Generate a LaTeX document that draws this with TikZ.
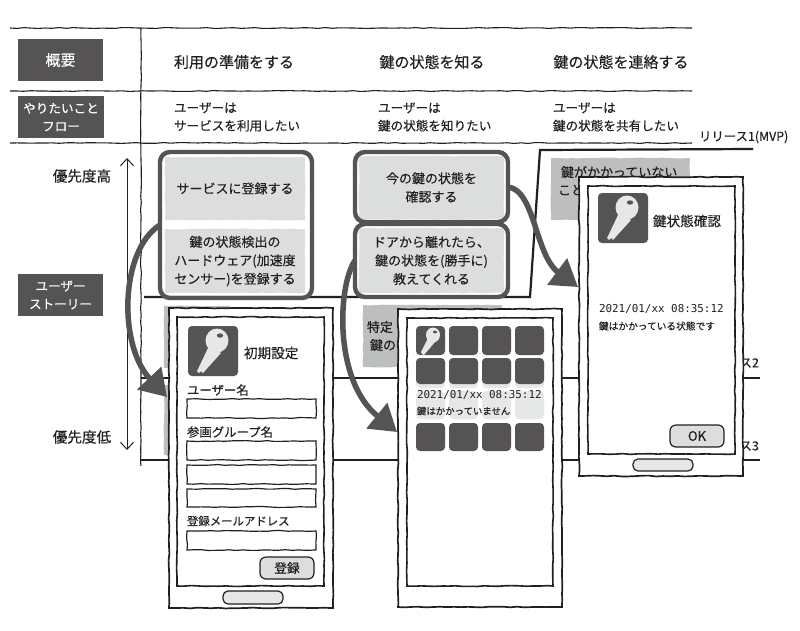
\documentclass[tikz,border=0pt]{standalone}
\usepackage{fontspec}
\setmainfont[FakeBold=0.25]{Noto Sans CJK JP}
\newfontfamily\datefont{DejaVu Sans Mono}
\usetikzlibrary{arrows.meta,decorations.pathmorphing}
\definecolor{ink}{HTML}{231F20}
\definecolor{darkbox}{HTML}{555354}
\definecolor{cardlight}{HTML}{DCDDDD}
\definecolor{cardmid}{HTML}{BDBEBE}
\definecolor{iconlight}{HTML}{E6E7E7}
\newcommand{\fs}[2]{\fontsize{#1}{#2}\selectfont}
\newcommand{\rbox}[7]{\node[#1,anchor=north west,minimum width={(#5)-(#3)},minimum height={(#6)-(#4)}] (#2) at (#3,#4) {#7};}
\tikzset{
  every node/.style={inner sep=0pt,outer sep=0pt,text=ink},
  wob/.style={decoration={random steps,segment length=7pt,amplitude=0.45pt},decorate},
  gridline/.style={draw=ink,line width=1.1pt,wob},
  relline/.style={draw=ink,line width=2.2pt},
  headbox/.style={fill=darkbox,text=white,align=center,font=\fs{12.6}{18}},
  headlabel/.style={align=center,font=\fs{15}{18}},
  flowlabel/.style={align=left,anchor=west,font=\fs{12.6}{18}},
  prio/.style={align=center,font=\fs{14.6}{18}},
  cardlt/.style={fill=cardlight,align=center,font=\fs{13}{18.5},wob},
  cardmd/.style={fill=cardmid,align=left,font=\fs{13}{18.5},wob},
  storyframe/.style={draw=darkbox,line width=4.4pt,rounded corners=10pt},
  phoneouter/.style={draw=ink,fill=white,line width=1.7pt,wob},
  phoneinner/.style={draw=ink,fill=white,line width=1.6pt,wob},
  field/.style={draw=ink,fill=white,line width=1.2pt,wob},
  fieldlabel/.style={anchor=west,font=\fs{12.4}{15}},
  pill/.style={rounded corners=5pt,draw=ink,fill=iconlight,line width=1.2pt},
  okbtn/.style={rounded corners=6pt,draw=ink,fill=cardlight,line width=1.2pt},
  appdark/.style={fill=darkbox,rounded corners=4pt},
  applight/.style={fill=iconlight,rounded corners=4pt},
  axisarrow/.style={draw=ink,line width=1pt,-{Straight Barb[length=7pt,width=13pt]}},
  storyarrow/.style={draw=darkbox,line width=5.5pt,-{Triangle[length=26pt,width=32pt]}},
  pics/keyicon/.style={code={
    \fill[darkbox,rounded corners=4pt] (0,0) rectangle (50,50);
    \fill[iconlight] (29,14.5) ellipse [x radius=11.5,y radius=12];
    \fill[iconlight] (21,20) -- (33,27) -- (15,47) -- (13,45) -- (11,47) -- (9,45) -- (11,41) -- cycle;
    \fill[darkbox] (32,9.5) ellipse [x radius=3.2,y radius=2.2];
  }},
  pics/keysmall/.style={code={
    \fill[iconlight] (17,9) ellipse [x radius=7,y radius=7.5];
    \fill[iconlight] (12,12) -- (19,16) -- (8,29) -- (6,28) -- (5,26) -- cycle;
    \fill[darkbox] (19,6) ellipse [x radius=2,y radius=1.4];
  }}
}
\begin{document}
\begin{tikzpicture}[x=1pt,y=-1pt]
\useasboundingbox (0,0) rectangle (800,630);
\fill[white] (0,0) rectangle (800,630);
% table rules
\draw[gridline] (10,28) -- (692,28);
\draw[gridline] (10,91) -- (692,91);
\draw[gridline] (10,143) -- (692,143);
\draw[gridline] (141,28) -- (141,466);
% row heads
\rbox{headbox}{hOverview}{18}{39}{103}{81}{\fs{15}{18}概要}
\rbox{headbox}{hFlow}{18}{96}{104}{138}{やりたいこと\\フロー}
\rbox{headbox}{hStory}{18}{274}{103}{316}{ユーザー\\ストーリー}
% column heads
\node[headlabel] (c1) at (234,62) {利用の準備をする};
\node[headlabel] (c2) at (432,62) {鍵の状態を知る};
\node[headlabel] (c3) at (621,62) {鍵の状態を連絡する};
\node[flowlabel] (f1) at (174,117) {ユーザーは\\サービスを利用したい};
\node[flowlabel] (f2) at (378,117) {ユーザーは\\鍵の状態を知りたい};
\node[flowlabel] (f3) at (553,117) {ユーザーは\\鍵の状態を共有したい};
\node[anchor=west,font=\fs{12.4}{14}] (r1) at (699,137) {リリース1(MVP)};
% priority axis
\coordinate (axisMid) at (127,300);
\coordinate (axisTop) at (127,158);
\coordinate (axisBot) at (127,450);
\draw[axisarrow] (axisMid) -- (axisTop);
\draw[axisarrow] (axisMid) -- (axisBot);
\node[prio] (pHigh) at (82,176) {優先度高};
\node[prio] (pLow) at (82,437) {優先度低};
% release lines
\draw[relline] (144,297) -- (530,297) -- (540,150) -- (753,149);
\draw[relline] (141,378) -- (760,378);
\draw[relline] (141,460) -- (760,460);
\node[anchor=east,font=\fs{12.6}{15}] (r2) at (759,363) {ス2};
\node[anchor=east,font=\fs{12.6}{15}] (r3) at (759,446) {ス3};
% cards
\rbox{cardlt}{s1}{165}{157}{305}{220}{サービスに登録する}
\rbox{cardlt}{s2}{165}{229}{305}{293}{鍵の状態検出の\\ハードウェア(加速度\\センサー)を登録する}
\rbox{cardlt}{s3}{359}{156}{504}{219}{今の鍵の状態を\\確認する}
\rbox{cardlt}{s4}{359}{228}{504}{293}{ドアから離れたら、\\鍵の状態を(勝手に)\\教えてくれる}
\rbox{storyframe}{g1}{160}{152}{312}{298}{}
\rbox{storyframe}{g2}{355}{152}{508}{222}{}
\rbox{storyframe}{g3}{355}{224}{508}{297}{}
\rbox{cardmd}{s5}{551}{158}{690}{220}{}
\node[anchor=west,font=\fs{13}{18}] (s5a) at (561,172) {鍵がかかっていない};
\node[anchor=west,font=\fs{13}{18}] (s5b) at (558,190) {こと};
\rbox{cardmd}{s6}{363}{305}{502}{367}{}
\node[anchor=west,font=\fs{13}{18}] (s6a) at (367,327) {特定};
\node[anchor=west,font=\fs{13}{18}] (s6b) at (370,345) {鍵の};
\rbox{cardmd}{s7}{164}{306}{230}{368}{}
\rbox{cardmd}{s8}{164}{385}{230}{455}{}
% phone: right
\rbox{phoneouter}{pR}{579}{177}{743}{476}{}
\rbox{phoneinner}{pRi}{588}{186}{735}{454}{}
\pic at (598,193) {keyicon};
\node[anchor=west,font=\fs{13.6}{16}] (pRt) at (653,221) {鍵状態確認};
\node[anchor=west,font=\datefont\fs{10.9}{13}] (pRd) at (599,309) {2021/01/xx 08:35:12};
\node[anchor=west,font=\fs{9.7}{12}] (pRm) at (599,326) {鍵はかかっている状態です};
\rbox{okbtn,font=\fs{13}{15}}{pRok}{670}{425}{724}{447}{OK}
\rbox{pill}{pRh}{633}{459}{693}{471}{}
% phone: left
\rbox{phoneouter}{pL}{169}{308}{333}{608}{}
\rbox{phoneinner}{pLi}{177}{317}{324}{586}{}
\pic at (188,326) {keyicon};
\node[anchor=west,font=\fs{13.6}{16}] (pLt) at (244,353) {初期設定};
\node[fieldlabel] (l1) at (187,390) {ユーザー名};
\rbox{field}{f11}{187}{399}{316}{418}{}
\node[fieldlabel] (l2) at (187,432) {参画グループ名};
\rbox{field}{f21}{187}{441}{316}{460}{}
\rbox{field}{f22}{187}{465}{316}{484}{}
\rbox{field}{f23}{187}{489}{316}{507}{}
\node[fieldlabel,font=\fs{11.4}{14}] (l3) at (187,521) {登録メールアドレス};
\rbox{field}{f31}{187}{531}{316}{550}{}
\rbox{okbtn,font=\fs{12.6}{15}}{pLok}{260}{557}{314}{579}{登録}
\rbox{pill}{pLh}{223}{591}{283}{604}{}
% phone: middle
\rbox{phoneouter}{pM}{398}{309}{562}{607}{}
\rbox{phoneinner}{pMi}{407}{318}{553}{586}{}
\foreach \cx in {416,449,482,515}{
  \fill[appdark] (\cx,326) rectangle ++(29,29);
  \fill[iconlight,rounded corners=4pt] (\cx,358) rectangle ++(29,30);
  \fill[appdark] (\cx,358) rectangle ++(29,26);
  \fill[applight] (\cx,391) rectangle ++(29,28);
  \fill[appdark] (\cx,423) rectangle ++(29,28);
}
\pic at (416,326) {keysmall};
\node[anchor=west,font=\datefont\fs{10.9}{13}] (pMd) at (417,395) {2021/01/xx 08:35:12};
\node[anchor=west,font=\fs{9.4}{12}] (pMm) at (417,411) {鍵はかかっていません};
% story arrows
\coordinate (t1) at (167,397);
\coordinate (t2) at (397,432);
\coordinate (t3) at (578,287);
\draw[storyarrow] (g1.west) .. controls (120,250) and (118,345) .. (t1);
\draw[storyarrow] (g3.west) .. controls (338,285) and (333,380) .. (t2);
\draw[storyarrow] (g2.east) .. controls (535,190) and (535,255) .. (t3);
\end{tikzpicture}
\end{document}
